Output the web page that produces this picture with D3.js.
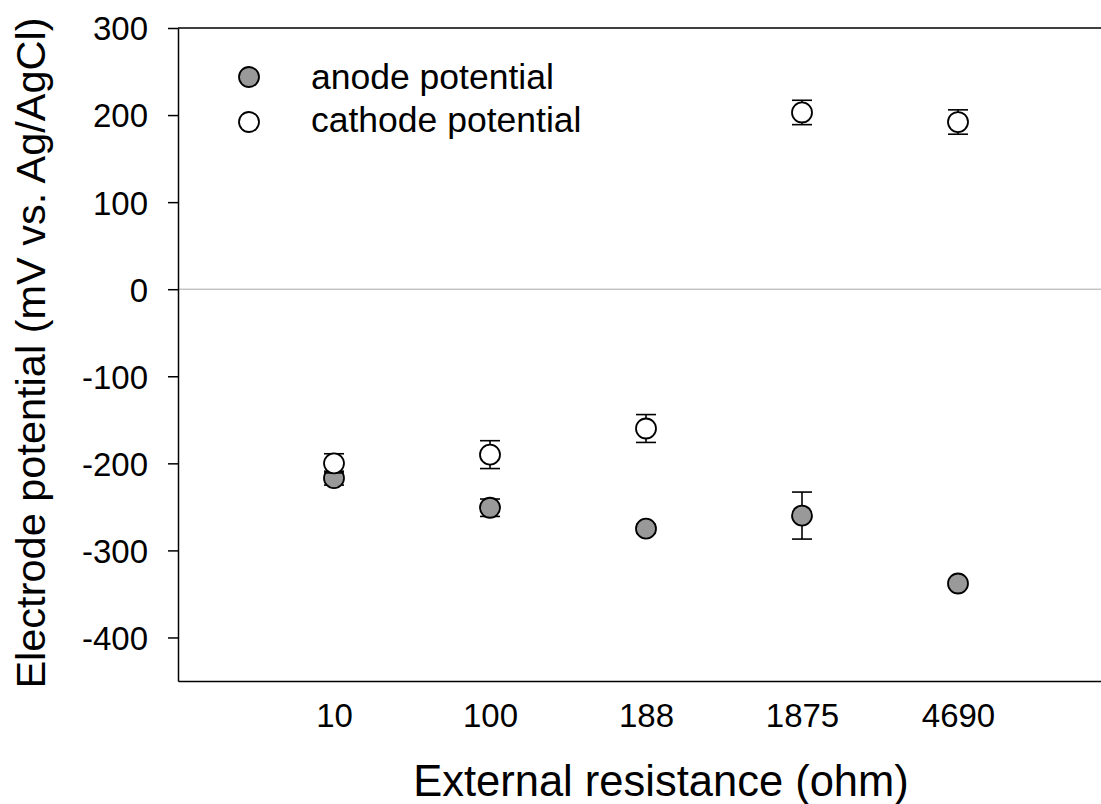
<!DOCTYPE html>
<html>
<head>
<meta charset="utf-8">
<script src="https://cdn.jsdelivr.net/npm/d3@7"></script>
<style>
  body { margin: 0; background: #fff; }
  svg { display: block; font-family: Arial, "Liberation Sans", sans-serif; }
</style>
</head>
<body>
<div id="chart"></div>
<script>
// electrode potentials vs external resistance (mean ± error)
const resistances = ['10', '100', '188', '1875', '4690'];
const anodeMean = [-217, -251, -275, -260, -338];
const anodeErr = [8, 10, 5, 27, 3];
const cathodeMean = [-200, -190, -160, 203, 192];
const cathodeErr = [11, 16, 16, 14, 14];
const yTicks = [-400, -300, -200, -100, 0, 100, 200, 300];

const W = 1101, H = 804;
const PLOT = { left: 178, right: 1114, top: 28, bottom: 681 };
const R = 10;
const FONT = 'Arial, "Liberation Sans", sans-serif';

const svg = d3.select('#chart').append('svg')
  .attr('width', W).attr('height', H);

const x = d3.scalePoint().domain(resistances)
  .range([PLOT.left, PLOT.right]).padding(1);
const y = d3.scaleLinear().domain([-450, 300]).range([PLOT.bottom, PLOT.top]);

// zero reference line
svg.append('line')
  .attr('x1', PLOT.left).attr('x2', PLOT.right)
  .attr('y1', y(0)).attr('y2', y(0))
  .attr('stroke', '#a8a8a8').attr('stroke-width', 1);

// top frame line
svg.append('line')
  .attr('x1', PLOT.left).attr('x2', PLOT.right)
  .attr('y1', PLOT.top).attr('y2', PLOT.top)
  .attr('stroke', '#000').attr('stroke-width', 1.5);

// Y axis — plain hyphen for negatives, like the original
const yAxis = svg.append('g')
  .attr('transform', `translate(${PLOT.left},0)`)
  .call(d3.axisLeft(y).tickValues(yTicks).tickFormat(d => String(d))
    .tickSize(10).tickPadding(20).tickSizeOuter(0));
yAxis.select('.domain').attr('stroke-width', 1.5);
yAxis.selectAll('.tick line').attr('stroke-width', 1.5);
yAxis.selectAll('text').style('font-size', '33px').style('font-family', FONT)
  .attr('fill', '#000').attr('dy', '0.36em');

// X axis (no ticks)
const xAxis = svg.append('g')
  .attr('transform', `translate(0,${PLOT.bottom})`)
  .call(d3.axisBottom(x).tickSize(0).tickPadding(23).tickSizeOuter(0));
xAxis.select('.domain').attr('stroke-width', 1.5);
xAxis.selectAll('text').style('font-size', '33px').style('font-family', FONT)
  .attr('fill', '#000').attr('dy', '0.71em');

// axis titles
svg.append('text')
  .attr('transform', `translate(45,353) rotate(-90)`)
  .attr('text-anchor', 'middle').style('font-size', '41.5px')
  .text('Electrode potential (mV vs. Ag/AgCl)');
svg.append('text')
  .attr('x', 661).attr('y', 796)
  .attr('text-anchor', 'middle').style('font-size', '43.5px')
  .text('External resistance (ohm)');

function drawSeries(means, errs, fill) {
  const g = svg.append('g');
  means.forEach((m, i) => {
    const cx = x(resistances[i]);
    const e = errs[i];
    const eb = g.append('g').attr('stroke', '#000').attr('stroke-width', 1.6);
    eb.append('line').attr('x1', cx).attr('x2', cx).attr('y1', y(m + e)).attr('y2', y(m - e));
    eb.append('line').attr('x1', cx - R).attr('x2', cx + R).attr('y1', y(m + e)).attr('y2', y(m + e));
    eb.append('line').attr('x1', cx - R).attr('x2', cx + R).attr('y1', y(m - e)).attr('y2', y(m - e));
    g.append('circle').attr('cx', cx).attr('cy', y(m)).attr('r', R)
      .attr('fill', fill).attr('stroke', '#000').attr('stroke-width', 1.8);
  });
}
drawSeries(anodeMean, anodeErr, '#999999');
drawSeries(cathodeMean, cathodeErr, '#ffffff');

// legend
const legend = [
  { label: 'anode potential', fill: '#999999', cy: 77, ty: 89 },
  { label: 'cathode potential', fill: '#ffffff', cy: 122, ty: 132 }
];
legend.forEach(d => {
  svg.append('circle').attr('cx', 249).attr('cy', d.cy).attr('r', R)
    .attr('fill', d.fill).attr('stroke', '#000').attr('stroke-width', 1.8);
  svg.append('text').attr('x', 311).attr('y', d.ty)
    .style('font-size', '35.5px').text(d.label);
});
</script>
</body>
</html>
